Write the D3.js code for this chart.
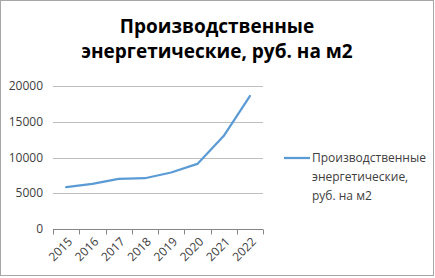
<!DOCTYPE html>
<html>
<head>
<meta charset="utf-8">
<script src="https://cdn.jsdelivr.net/npm/d3@7"></script>
<style>
  body { margin: 0; background: #fff; }
</style>
</head>
<body>
<div id="chart"></div>
<script>
const years = ["2015", "2016", "2017", "2018", "2019", "2020", "2021", "2022"];
const values = [5850, 6300, 7000, 7100, 7900, 9100, 13000, 18600];
const yTicks = [0, 5000, 10000, 15000, 20000];
const titleLines = ["Производственные", "энергетические, руб. на м2"];
const legendLines = ["Производственные", "энергетические,", "руб. на м2"];

const width = 435, height = 278;
const font = "'Open Sans', 'Noto Sans', sans-serif";

const svg = d3.select("#chart")
  .append("svg")
  .attr("width", width)
  .attr("height", height)
  .style("font-family", font);

// chart border
svg.append("rect")
  .attr("x", 0.5).attr("y", 0.5)
  .attr("width", 433).attr("height", 275)
  .attr("fill", "#fff")
  .attr("stroke", "#a6a6a6");

// title
svg.append("g")
  .selectAll("text")
  .data(titleLines)
  .join("text")
  .attr("x", 217)
  .attr("y", (d, i) => 33 + i * 25)
  .attr("text-anchor", "middle")
  .attr("font-size", 19)
  .attr("font-weight", "bold")
  .attr("fill", "#000")
  .text((d) => d);

const x = d3.scaleBand().domain(years).range([53, 263]);
const y = d3.scaleLinear().domain([0, 20000]).range([229, 86]);

// gridlines
svg.append("g")
  .selectAll("line")
  .data(yTicks.filter((d) => d > 0))
  .join("line")
  .attr("x1", 53).attr("x2", 263)
  .attr("y1", (d) => Math.round(y(d)) + 0.5)
  .attr("y2", (d) => Math.round(y(d)) + 0.5)
  .attr("stroke", "#bfbfbf");

// y labels
svg.append("g")
  .selectAll("text")
  .data(yTicks)
  .join("text")
  .attr("x", 43)
  .attr("y", (d) => y(d))
  .attr("dy", "0.35em")
  .attr("text-anchor", "end")
  .attr("font-size", 12)
  .attr("fill", "#404040")
  .text((d) => d);

// x axis
const xAxis = svg.append("g")
  .attr("transform", `translate(0,${Math.round(y(0)) + 0.5})`);
xAxis.append("line")
  .attr("x1", 53).attr("x2", 263)
  .attr("stroke", "#868686");
xAxis.selectAll("line.tick")
  .data(years.map((d) => x(d)).concat([263]))
  .join("line")
  .attr("class", "tick")
  .attr("x1", (d) => Math.round(d) + 0.5)
  .attr("x2", (d) => Math.round(d) + 0.5)
  .attr("y1", 0).attr("y2", 5)
  .attr("stroke", "#868686");
xAxis.selectAll("text")
  .data(years)
  .join("text")
  .attr("transform", (d) => `translate(${x(d) + x.bandwidth() / 2 + 4},10) rotate(-45)`)
  .attr("text-anchor", "end")
  .attr("dy", "0.35em")
  .attr("font-size", 12)
  .attr("fill", "#404040")
  .text((d) => d);

// line
const line = d3.line()
  .x((d, i) => x(years[i]) + x.bandwidth() / 2)
  .y((d) => y(d));
svg.append("path")
  .datum(values)
  .attr("d", line)
  .attr("fill", "none")
  .attr("stroke", "#5b9bd5")
  .attr("stroke-width", 2.25)
  .attr("stroke-linejoin", "round")
  .attr("stroke-linecap", "round");

// legend
svg.append("line")
  .attr("x1", 284).attr("x2", 310)
  .attr("y1", 158).attr("y2", 158)
  .attr("stroke", "#5b9bd5")
  .attr("stroke-width", 2.25);
svg.append("g")
  .selectAll("text")
  .data(legendLines)
  .join("text")
  .attr("x", 312)
  .attr("y", (d, i) => 158 + i * 19)
  .attr("dy", "0.35em")
  .attr("font-size", 12)
  .attr("fill", "#404040")
  .text((d) => d);
</script>
</body>
</html>
